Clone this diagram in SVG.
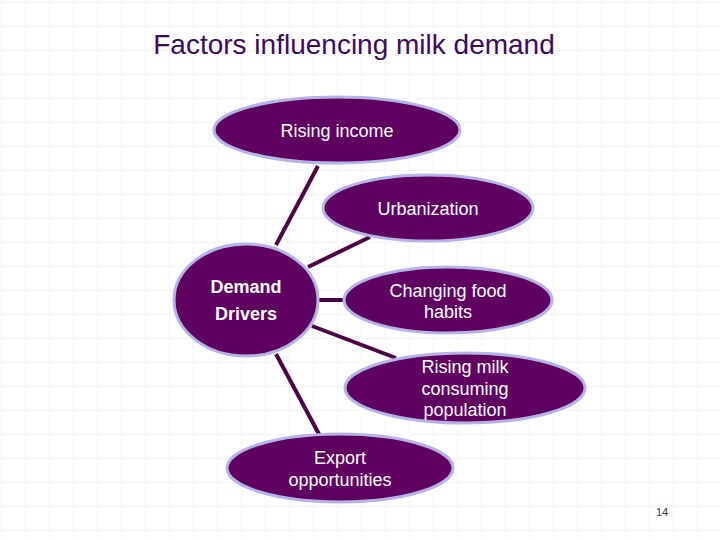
<svg xmlns="http://www.w3.org/2000/svg" width="720" height="540" viewBox="0 0 720 540">
<defs>
<pattern id="grid" x="1" y="2" width="24" height="24" patternUnits="userSpaceOnUse">
<path d="M0 0H24M0 0V24" fill="none" stroke="#d4d4d4" stroke-width="1" stroke-dasharray="1 1"/>
</pattern>
<style>
.n{fill:#5f0060;stroke:#b4b4e6;stroke-width:3}
.t{fill:#fff;font-family:"Liberation Sans",Arial,sans-serif;font-size:18px;text-anchor:middle}
.c line{stroke:#4c0045;stroke-width:4}
</style>
</defs>
<rect width="720" height="540" fill="#fff"/>
<rect width="720" height="540" fill="url(#grid)"/>
<text x="354" y="54" font-family="Liberation Sans,Arial,sans-serif" font-size="28" fill="#3d0a5a" text-anchor="middle">Factors influencing milk demand</text>
<g class="c" id="connectors">
<line x1="276" y1="245" x2="318" y2="166"/>
<line x1="308" y1="267" x2="370" y2="237"/>
<line x1="316" y1="300" x2="344" y2="300"/>
<line x1="312" y1="326" x2="396" y2="358"/>
<line x1="276" y1="354" x2="320" y2="436"/>
</g>
<g id="income"><ellipse class="n" cx="337" cy="130" rx="123" ry="33"/><text class="t" x="337" y="137">Rising income</text></g>
<g id="urban"><ellipse class="n" cx="428" cy="208" rx="105" ry="33"/><text class="t" x="428" y="215">Urbanization</text></g>
<g id="drivers"><ellipse class="n" cx="246" cy="300" rx="72" ry="56"/><text class="t" x="246" y="293" font-weight="bold" font-size="19">Demand</text><text class="t" x="246" y="320" font-weight="bold" font-size="19">Drivers</text></g>
<g id="food"><ellipse class="n" cx="448" cy="300" rx="104" ry="33"/><text class="t" x="448" y="297">Changing food</text><text class="t" x="448" y="318">habits</text></g>
<g id="population"><ellipse class="n" cx="465" cy="388" rx="120" ry="35"/><text class="t" x="465" y="373">Rising milk</text><text class="t" x="465" y="395">consuming</text><text class="t" x="465" y="416">population</text></g>
<g id="export"><ellipse class="n" cx="340" cy="468" rx="113" ry="34"/><text class="t" x="340" y="464">Export</text><text class="t" x="340" y="486">opportunities</text></g>
<text x="662" y="516" font-family="Liberation Sans,Arial,sans-serif" font-size="11" fill="#333" text-anchor="middle">14</text>
</svg>
